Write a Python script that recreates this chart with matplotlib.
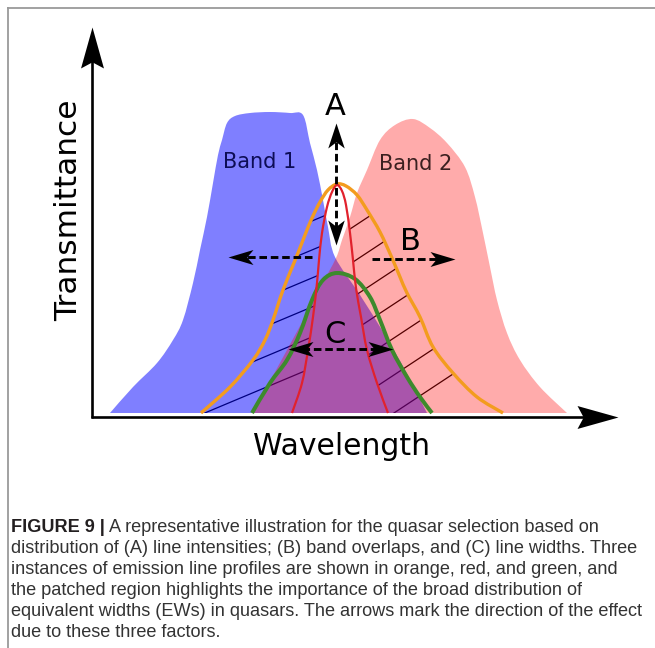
import numpy as np
import matplotlib
matplotlib.use("Agg")
import matplotlib.pyplot as plt
from matplotlib.path import Path
from matplotlib.patches import PathPatch
from matplotlib.markers import MarkerStyle
from matplotlib.transforms import Affine2D

# ---------------- data (x = wavelength, y = transmittance,
# both in figure pixels, y measured downward) ----------------
band1_wl = [110, 133, 157, 173, 183, 193, 200, 207, 213, 218, 222, 227, 235, 250, 270, 290, 303,
            310, 317, 323, 328, 335, 360, 385, 405, 427]
band1_tr = [413, 387, 363, 340, 320, 283, 250, 217, 183, 155, 140, 123, 116, 113, 112, 113, 115,
            143, 170, 200, 227, 257, 295, 335, 370, 413]

band2_wl = [253, 275, 300, 320, 336, 342, 350, 357, 367, 380, 395, 413, 430, 447, 465, 475, 483,
            490, 497, 507, 520, 540, 567]
band2_tr = [413, 372, 326, 288, 258, 240, 217, 193, 170, 140, 125, 119, 128, 143, 167, 197, 233,
            267, 300, 333, 360, 387, 413]

orange_wl = [201, 230, 253, 265, 273, 283, 296, 305, 312, 320, 328, 337, 346, 357, 367, 380, 392,
             400, 407, 420, 433, 453, 477, 503]
orange_tr = [413, 387, 360, 340, 320, 290, 258, 235, 218, 202, 190, 184, 186, 195, 210, 232, 258,
             277, 293, 317, 347, 373, 397, 413]

red_wl = [292, 302, 308, 313, 317, 319, 322, 327, 332, 337, 342, 346, 350, 353, 356, 361, 367, 377, 388]
red_tr = [413, 383, 350, 317, 283, 260, 233, 207, 192, 185, 191, 205, 233, 260, 288, 317, 350, 383, 413]

green_wl = [252, 270, 287, 300, 312, 323, 337, 355, 370, 380, 392, 407, 420, 432]
green_tr = [413, 383, 360, 333, 300, 280, 273, 279, 297, 320, 350, 377, 397, 413]

# hatch lines: level at reference wavelength
hatch_left_ref, hatch_left_slope = 300, -0.42
hatch_left_levels = [373, 342, 312, 283, 255, 226, 198]
hatch_right_ref, hatch_right_slope = 400, -0.66
hatch_right_levels = [409, 371, 334, 300, 266, 231, 196]

band_labels = ["Band 1", "Band 2"]
axis_labels = ["Wavelength", "Transmittance"]
letters = ["A", "B", "C"]

caption_bold = "FIGURE 9 |"
caption_lines = [
    " A representative illustration for the quasar selection based on",
    "distribution of (A) line intensities; (B) band overlaps, and (C) line widths. Three",
    "instances of emission line profiles are shown in orange, red, and green, and",
    "the patched region highlights the importance of the broad distribution of",
    "equivalent widths (EWs) in quasars. The arrows mark the direction of the effect",
    "due to these three factors.",
]

# ---------------- figure ----------------
W, H = 655, 648
fig = plt.figure(figsize=(W / 100, H / 100), dpi=100)
ax = fig.add_axes([0, 0, 1, 1])
ax.set_xlim(0, W)
ax.set_ylim(H, 0)
ax.axis("off")


def smooth_path(xs, ys, closed=False):
    P = np.column_stack([xs, ys]).astype(float)
    n = len(P)
    verts = [P[0]]
    codes = [Path.MOVETO]
    for i in range(n - 1):
        p0 = P[i - 1] if i > 0 else P[i]
        p1, p2 = P[i], P[i + 1]
        p3 = P[i + 2] if i + 2 < n else P[i + 1]
        verts += [p1 + (p2 - p0) / 6, p2 - (p3 - p1) / 6, p2]
        codes += [Path.CURVE4] * 3
    if closed:
        verts.append(P[0])
        codes.append(Path.CLOSEPOLY)
    return Path(verts, codes)


# frame (top and left edges of the panel)
ax.plot([7, W], [7.5, 7.5], color="#9a9a9a", lw=1.3, solid_capstyle="butt")
ax.plot([7.5, 7.5], [7, H], color="#9a9a9a", lw=1.3, solid_capstyle="butt")

# hatching (under the bands so that it is tinted by them)
clip_poly = Path(np.column_stack([orange_wl + red_wl[::-1], orange_tr + red_tr[::-1]]), closed=False)
clip_patch = PathPatch(clip_poly, transform=ax.transData, facecolor="none", edgecolor="none")
ax.add_patch(clip_patch)
for lev in hatch_left_levels:
    xx = np.array([190, 338])
    ln, = ax.plot(xx, lev + hatch_left_slope * (xx - hatch_left_ref), color="black", lw=0.9, zorder=1)
    ln.set_clip_path(clip_patch)
for lev in hatch_right_levels:
    xx = np.array([336, 520])
    ln, = ax.plot(xx, lev + hatch_right_slope * (xx - hatch_right_ref), color="black", lw=0.9, zorder=1)
    ln.set_clip_path(clip_patch)

# bands
ax.add_patch(PathPatch(smooth_path(band1_wl, band1_tr, closed=True), facecolor=(0, 0, 1, 0.5),
                       edgecolor="none", zorder=2))
ax.add_patch(PathPatch(smooth_path(band2_wl, band2_tr, closed=True), facecolor=(1, 0, 0, 0.33),
                       edgecolor="none", zorder=3))

ax.text(260, 168, band_labels[0], fontsize=15, color="#0d0d55", ha="center", va="baseline",
        family="DejaVu Sans", zorder=4)
ax.text(416, 170, band_labels[1], fontsize=15, color="#3b2020", ha="center", va="baseline",
        family="DejaVu Sans", zorder=4)

# emission line profiles
ax.add_patch(PathPatch(smooth_path(orange_wl, orange_tr), facecolor="none", edgecolor="#f39c1e",
                       lw=2.4, zorder=5))
ax.add_patch(PathPatch(smooth_path(green_wl, green_tr), facecolor="none", edgecolor="#3d8a2c",
                       lw=2.9, zorder=5))
ax.add_patch(PathPatch(smooth_path(red_wl, red_tr), facecolor="none", edgecolor="#e1222d",
                       lw=1.6, zorder=6))


# arrows
def head_marker(ratio, back):
    return Path([(0, 0), (-1, ratio), (-back, 0), (-1, -ratio), (0, 0)],
                [Path.MOVETO, Path.LINETO, Path.LINETO, Path.LINETO, Path.CLOSEPOLY])


def head(x, y, angle, size, ratio=0.3, back=0.82):
    m = MarkerStyle(head_marker(ratio, back), transform=Affine2D().rotate_deg(angle))
    ax.plot([x], [y], marker=m, markersize=size, color="black", markeredgewidth=0,
            linestyle="none", zorder=8)


# axes arrows
ax.plot([92, 92], [418, 50], color="black", lw=1.9, zorder=7, solid_capstyle="butt")
head(92, 27, 90, 59, ratio=0.28, back=0.85)
ax.plot([91, 595], [417, 417], color="black", lw=1.9, zorder=7, solid_capstyle="butt")
head(618, 417, 0, 59, ratio=0.28, back=0.85)

dash_kw = dict(color="black", lw=2.1, dashes=(2.6, 1.3), zorder=7, solid_capstyle="butt")
# A (vertical, double headed)
ax.plot([336, 336], [142, 228], **dash_kw)
head(336, 123, 90, 36, ratio=0.33, back=0.75)
head(336, 245, -90, 36, ratio=0.33, back=0.75)
# left arrow
ax.plot([312, 244], [257, 257], **dash_kw)
head(228, 257, 180, 36, ratio=0.3, back=0.75)
# B arrow
ax.plot([372, 440], [259, 259], **dash_kw)
head(455, 259, 0, 36, ratio=0.3, back=0.75)
# C arrow (double headed)
ax.plot([302, 380], [349, 349], **dash_kw)
head(288, 349, 180, 36, ratio=0.3, back=0.75)
head(393, 349, 0, 36, ratio=0.3, back=0.75)

# letters
for s, (x, y) in zip(letters, [(335, 115), (410, 250), (335, 343)]):
    ax.text(x, y, s, fontsize=22, ha="center", va="baseline", family="DejaVu Sans", zorder=9)

# axis titles
ax.text(342, 455, axis_labels[0], fontsize=21.5, ha="center", va="baseline", family="DejaVu Sans")
ax.text(77, 210, axis_labels[1], fontsize=22.5, ha="center", va="baseline", rotation=90,
        rotation_mode="anchor", family="DejaVu Sans")

# caption
cap_family = ["Liberation Sans", "DejaVu Sans"]
renderer = fig.canvas.get_renderer()
probe = ax.text(0, 0, caption_lines[4], fontsize=12, family=cap_family)
w12 = probe.get_window_extent(renderer).width
probe.remove()
cap_size = 12 * 634.0 / w12
cap_color = "#333333"

x0, y0, dy = 11, 532, 21
bold = ax.text(x0, y0, caption_bold, fontsize=cap_size, family=cap_family, weight="bold",
               color="#231f20", ha="left", va="baseline")
ax.annotate(caption_lines[0], xy=(1, 0), xycoords=bold, fontsize=cap_size, family=cap_family,
            color=cap_color, ha="left", va="bottom")
for i, line in enumerate(caption_lines[1:], start=1):
    ax.text(x0, y0 + i * dy, line, fontsize=cap_size, family=cap_family, color=cap_color,
            ha="left", va="baseline")

fig.savefig("out.png", dpi=100)
